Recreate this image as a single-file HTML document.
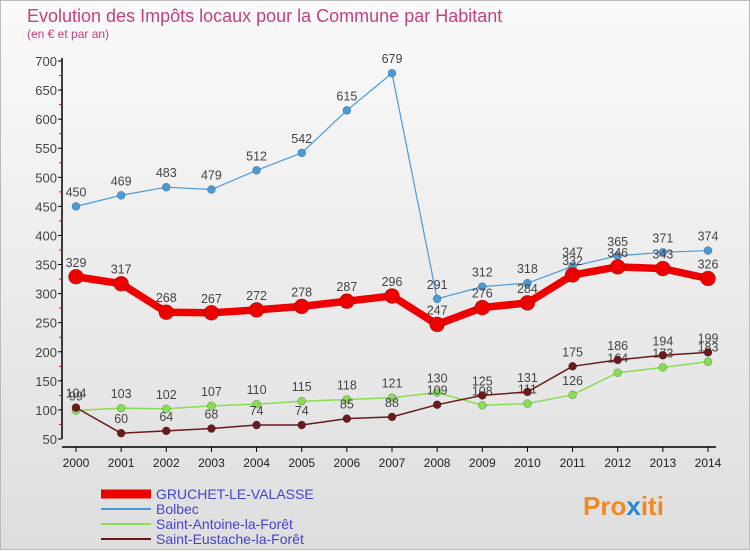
<!DOCTYPE html>
<html><head><meta charset="utf-8"><style>
body{margin:0;width:750px;height:550px;overflow:hidden;font-family:"Liberation Sans",sans-serif}
#wrap{position:relative;width:748px;height:548px;border:1px solid #bbb;background:linear-gradient(#fafafa,#dedede);}
</style></head><body>
<div id="wrap">
<svg id="chart" width="748" height="548" xmlns="http://www.w3.org/2000/svg">
<text x="26" y="21" font-size="18" fill="#c8407a">Evolution des Impôts locaux pour la Commune par Habitant</text>
<text x="26" y="37" font-size="12" fill="#c8407a">(en € et par an)</text>
<g id="axes"></g><g id="series"></g><g id="legend"></g>
<text x="582" y="514" font-size="26" font-weight="bold" fill="#f08a20">Pro<tspan fill="#2a8ad0">x</tspan>iti</text>
</svg></div>
<script>
const years=[2000,2001,2002,2003,2004,2005,2006,2007,2008,2009,2010,2011,2012,2013,2014];
const yTicks=[50,100,150,200,250,300,350,400,450,500,550,600,650,700];
const gruchet=[329,317,268,267,272,278,287,296,247,276,284,332,346,343,326];
const bolbec=[450,469,483,479,512,542,615,679,291,312,318,347,365,371,374];
const antoine=[99,103,102,107,110,115,118,121,130,108,111,126,164,173,183];
const eustache=[104,60,64,68,74,74,85,88,109,125,131,175,186,194,199];
const NS="http://www.w3.org/2000/svg";
const X=i=>75+i*(632/14);
const Y=v=>438-(v-50)*(378/650);
function mk(p,t,a){const e=document.createElementNS(NS,t);for(const k in a)e.setAttribute(k,a[k]);p.appendChild(e);return e;}
const ax=document.getElementById('axes');
let l=mk(ax,'line',{x1:61,y1:57,x2:61,y2:438,stroke:'#000','stroke-width':1.5});

l=mk(ax,'line',{x1:61,y1:446,x2:715,y2:446,stroke:'#000','stroke-width':1.5});

yTicks.forEach((v,i)=>{mk(ax,'line',{x1:57,y1:Y(v),x2:61,y2:Y(v),stroke:'#000'});
 if(i<yTicks.length-1)mk(ax,'line',{x1:58,y1:Y(v+25),x2:61,y2:Y(v+25),stroke:'#f00'});
 const t=mk(ax,'text',{x:56,y:Y(v)+5,'font-size':13,'text-anchor':'end',fill:'#444'});t.textContent=v;
 });
years.forEach((y,i)=>{mk(ax,'line',{x1:X(i),y1:446,x2:X(i),y2:451,stroke:'#000'});
 const t=mk(ax,'text',{x:X(i),y:466,'font-size':12,'text-anchor':'middle',fill:'#222'});t.textContent=y;
 });
const sg=document.getElementById('series');
function draw(data,color,w,r,name){
 const g=mk(sg,'g',{});
 mk(g,'polyline',{points:data.map((v,i)=>X(i)+','+Y(v)).join(' '),fill:'none',stroke:color,'stroke-width':w,'stroke-linejoin':'round'});
 data.forEach((v,i)=>{const c=mk(g,'circle',{cx:X(i),cy:Y(v),r:r,fill:color,stroke:'rgba(0,0,0,0.3)','stroke-width':0.6});
  
  const t=mk(g,'text',{x:X(i),y:Y(v)-10,'font-size':12.5,'text-anchor':'middle',fill:'#444'});t.textContent=v;
  });
}
draw(antoine,'#88dd55',1.5,4,'saint-antoine');
draw(eustache,'#6a1a1a',1.5,4,'saint-eustache');
draw(bolbec,'#4a9ad8',1.2,4,'bolbec');
draw(gruchet,'#ee0000',7.5,7.5,'gruchet');
const lg=document.getElementById('legend');
const names=['GRUCHET-LE-VALASSE','Bolbec','Saint-Antoine-la-Forêt','Saint-Eustache-la-Forêt'];
const cols=['#ee0000','#4a9ad8','#88dd55','#6a1a1a'];const ws=[9,2,2,2];
names.forEach((n,i)=>{const yy=493+i*15;
 const g=mk(lg,'g',{});
 mk(g,'line',{x1:100,y1:yy,x2:150,y2:yy,stroke:cols[i],'stroke-width':ws[i]});
 const t=mk(g,'text',{x:155,y:yy+5,'font-size':14,fill:'#4444cc'});t.textContent=n;});
</script></body></html>
